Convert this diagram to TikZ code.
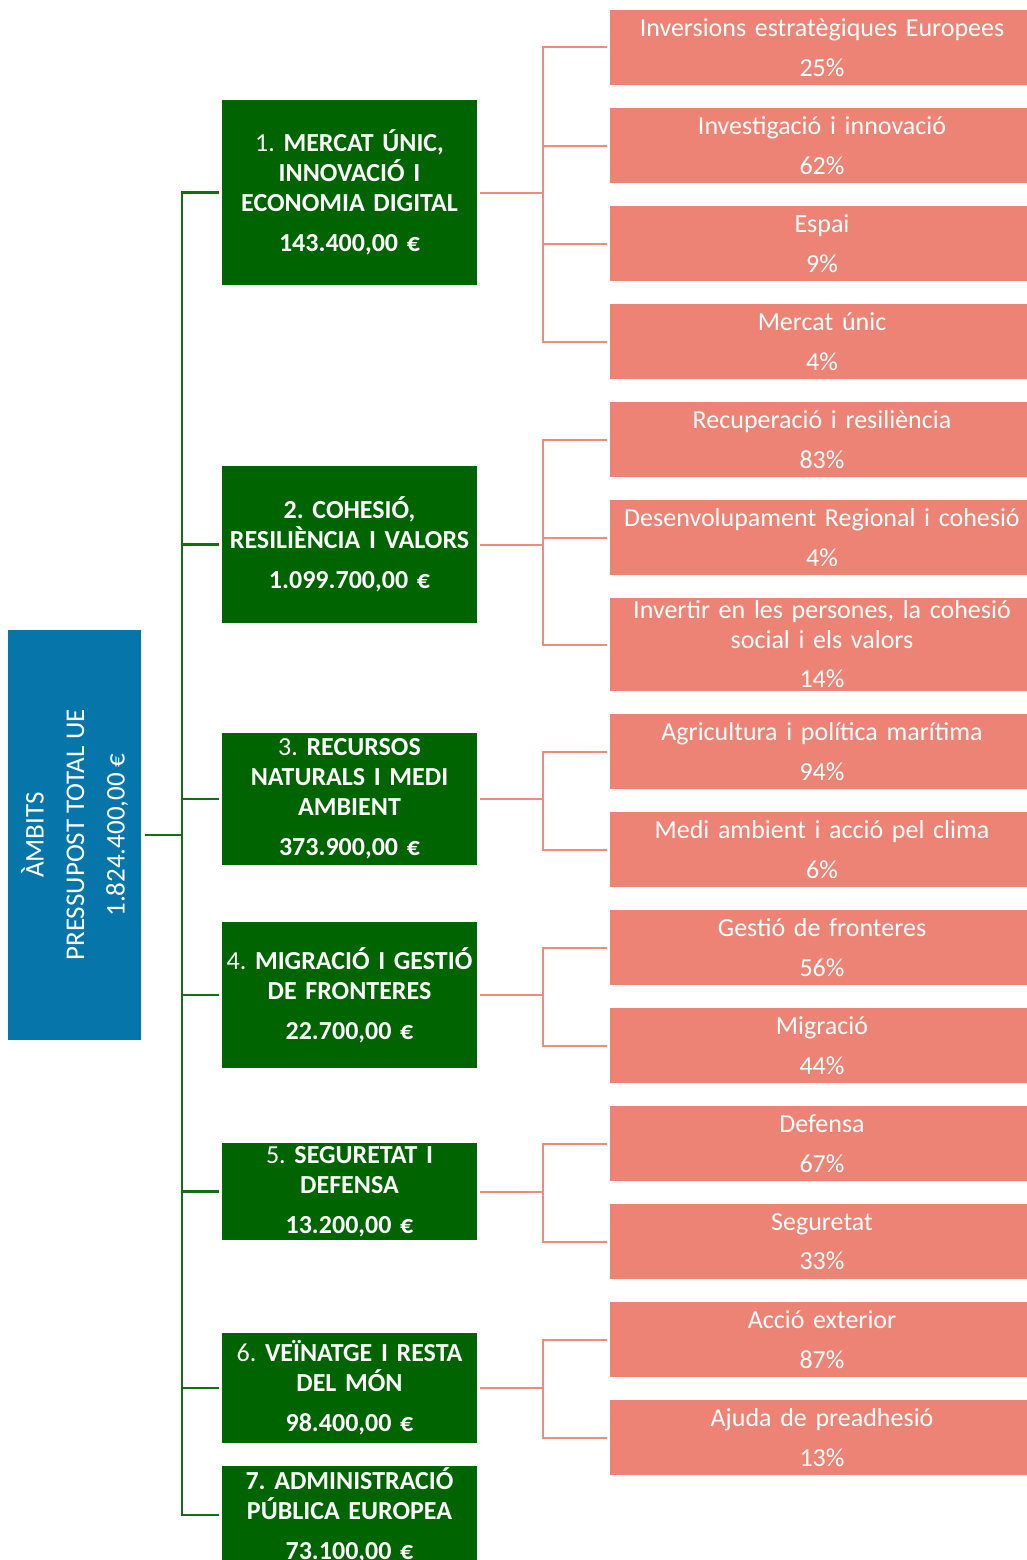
\documentclass[tikz,border=0pt]{standalone}
\usepackage{fontspec}
\setmainfont{Carlito}
\usetikzlibrary{calc}
\frenchspacing
\definecolor{ambitblue}{RGB}{6,118,170}
\definecolor{ambitgreen}{RGB}{0,100,0}
\definecolor{ambitpink}{RGB}{236,131,117}
\definecolor{linegreen}{RGB}{20,110,20}
\definecolor{linepink}{RGB}{238,138,126}

\begin{document}
\begin{tikzpicture}[
		x=1pt, y=-1pt,
		arrel/.style={fill=ambitblue,text=white,rotate=90,minimum width=410pt,minimum height=133pt,align=center,inner sep=0pt,font=\fontsize{27}{40.5}\selectfont},
		ambit/.style={fill=ambitgreen,text=white,minimum width=255pt,text width=252pt,align=center,inner xsep=1.5pt,inner ysep=0pt,font=\fontsize{26}{30}\selectfont\bfseries},
		partida/.style={fill=ambitpink,text=white,minimum width=424pt,minimum height=75pt,text width=420pt,align=center,inner xsep=2pt,inner ysep=0pt,font=\fontsize{26}{29.5}\selectfont},
		verda/.style={draw=linegreen,line width=2.2pt,shorten <=4pt,shorten >=3pt},
		rosa/.style={draw=linepink,line width=2pt,shorten <=3pt,shorten >=3pt}
	]
		\useasboundingbox (0,0) rectangle (1026,1560);

		% pressupost total (girat: south queda a la dreta)
		\node[arrel] (arrel) at (74.5,835) {ÀMBITS\\PRESSUPOST TOTAL UE\\1.824.400,00 €};

		% àmbits
		\node[ambit,minimum height=185pt] (a1) at (349.5,192.5) {{\mdseries 1.} MERCAT ÚNIC,\\INNOVACIÓ I\\ECONOMIA DIGITAL\\[10pt]143.400,00 €};
		\node[ambit,minimum height=157pt] (a2) at (349.5,544.5) {2. COHESIÓ,\\RESILIÈNCIA I VALORS\\[10pt]1.099.700,00 €};
		\node[ambit,minimum height=132pt] (a3) at (349.5,799) {{\mdseries 3.} RECURSOS\\NATURALS I MEDI\\AMBIENT\\[10pt]373.900,00 €};
		\node[ambit,minimum height=146pt] (a4) at (349.5,995) {{\mdseries 4.} MIGRACIÓ I GESTIÓ\\DE FRONTERES\\[10pt]22.700,00 €};
		\node[ambit,minimum height=97pt] (a5) at (349.5,1191.5) {{\mdseries 5.} SEGURETAT I\\DEFENSA\\[10pt]13.200,00 €};
		\node[ambit,minimum height=110pt] (a6) at (349.5,1388) {{\mdseries 6.} VEÏNATGE I RESTA\\DEL MÓN\\[10pt]98.400,00 €};
		\node[ambit,minimum height=98pt] (a7) at (349.5,1515) {7. ADMINISTRACIÓ\\PÚBLICA EUROPEA\\[10pt]73.100,00 €};

		% partides (la caixa continua una mica més enllà de la vora dreta)
		\node[partida] (p1) at (822,47.5) {Inversions estratègiques Europees\\[10pt]25\%};
		\node[partida] (p2) at (822,145.5) {Investigació i innovació\\[10pt]62\%};
		\node[partida] (p3) at (822,243.5) {Espai\\[10pt]9\%};
		\node[partida] (p4) at (822,341.5) {Mercat únic\\[10pt]4\%};
		\node[partida] (p5) at (822,439.5) {Recuperació i resiliència\\[10pt]83\%};
		\node[partida] (p6) at (822,537.5) {Desenvolupament Regional i cohesió\\[10pt]4\%};
		\node[partida,minimum height=93pt] (p7) at (822,644.5) {Invertir en les persones, la cohesió\\social i els valors\\[10pt]14\%};
		\node[partida] (p8) at (822,751.5) {Agricultura i política marítima\\[10pt]94\%};
		\node[partida] (p9) at (822,849.5) {Medi ambient i acció pel clima\\[10pt]6\%};
		\node[partida] (p10) at (822,947.5) {Gestió de fronteres\\[10pt]56\%};
		\node[partida] (p11) at (822,1045.5) {Migració\\[10pt]44\%};
		\node[partida] (p12) at (822,1143.5) {Defensa\\[10pt]67\%};
		\node[partida] (p13) at (822,1241.5) {Seguretat\\[10pt]33\%};
		\node[partida] (p14) at (822,1339.5) {Acció exterior\\[10pt]87\%};
		\node[partida] (p15) at (822,1437.5) {Ajuda de preadhesió\\[10pt]13\%};

		% connexions
		\foreach \a in {1,...,7}
			\draw[verda] (arrel.south) -- ++(41,0) |- (a\a.west);
		\foreach \a/\p in {1/1,1/2,1/3,1/4,2/5,2/6,2/7,3/8,3/9,4/10,4/11,5/12,5/13,6/14,6/15}
			\draw[rosa] (a\a.east) -- ++(66,0) |- (p\p.west);
	\end{tikzpicture}
\end{document}
